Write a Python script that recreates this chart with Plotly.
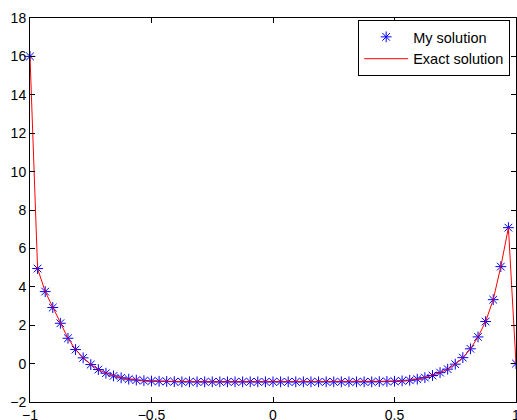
import numpy as np
import plotly.graph_objects as go

n_points = 65
x_values = np.linspace(-1, 1, n_points)

left_part = [16.0, 4.95, 3.75, 2.92, 2.10, 1.32, 0.73, 0.30, -0.05, -0.31,
             -0.50, -0.64, -0.74, -0.81, -0.86, -0.89, -0.91, -0.92, -0.93, -0.94]
middle_part = [-0.95] * 26
right_part = [-0.94, -0.93, -0.92, -0.90, -0.87, -0.81, -0.73, -0.62, -0.47,
              -0.29, -0.03, 0.31, 0.77, 1.39, 2.19, 3.33, 5.05, 7.08, 0.0]
my_solution = left_part + middle_part + right_part
exact_solution = list(my_solution)

x_ticks = [-1, -0.5, 0, 0.5, 1]
y_ticks = [-2, 0, 2, 4, 6, 8, 10, 12, 14, 16, 18]

fig = go.Figure()
fig.add_trace(go.Scatter(
    x=x_values, y=my_solution, mode="markers", name="My solution",
    marker=dict(symbol="asterisk-open", size=9, color="#0000FF",
                line=dict(color="#0000FF", width=1)),
    cliponaxis=False))
fig.add_trace(go.Scatter(
    x=x_values, y=exact_solution, mode="lines", name="Exact solution",
    line=dict(color="#FF0000", width=1), cliponaxis=False))

axis_common = dict(showline=True, linecolor="black", linewidth=1, mirror="ticks",
                   ticks="inside", ticklen=5, tickcolor="black", showgrid=False,
                   zeroline=False, automargin=False, ticklabeloverflow="allow",
                   tickfont=dict(family="Liberation Sans, Arial", size=14, color="black"))
fig.update_xaxes(range=[-1, 1], tickvals=x_ticks, **axis_common)
fig.update_yaxes(range=[-2, 18], tickvals=y_ticks, **axis_common)

fig.update_layout(
    width=517, height=420,
    margin=dict(l=30, r=1, t=18, b=18),
    plot_bgcolor="white", paper_bgcolor="white",
    font=dict(family="Liberation Sans, Arial", size=14, color="black"),
    legend=dict(x=0.988, y=0.995, xanchor="right", yanchor="top",
                bordercolor="black", borderwidth=1, bgcolor="white",
                font=dict(size=14.5), tracegroupgap=0, itemwidth=44),
)
fig.write_html("out.html", config={"displayModeBar": False},
               post_script="document.body.style.margin='0';document.body.style.overflow='hidden';")
